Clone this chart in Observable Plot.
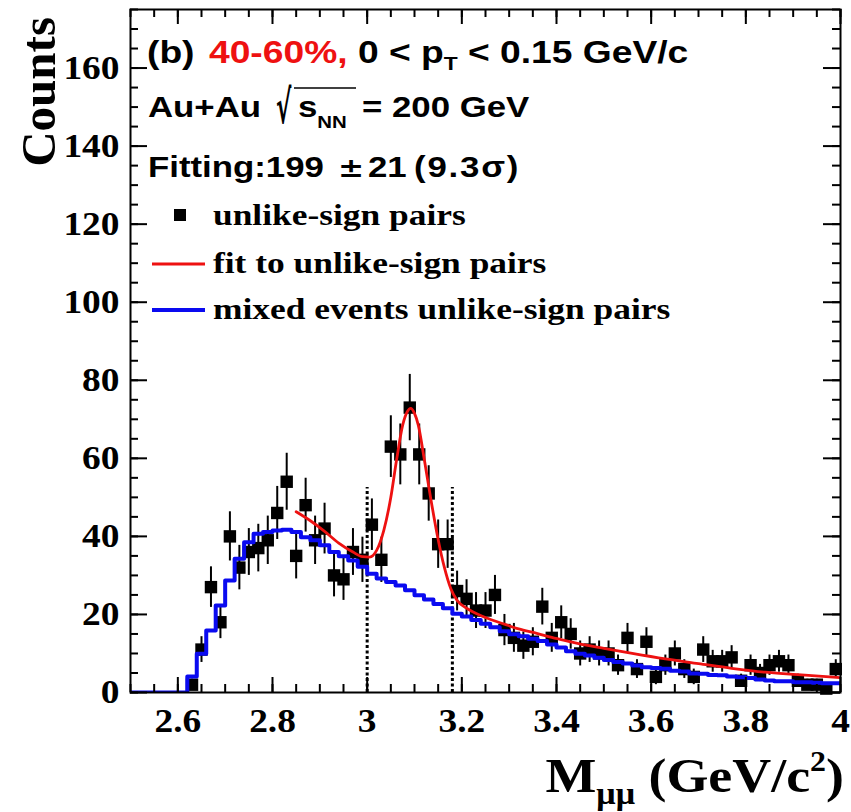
<!DOCTYPE html>
<html><head><meta charset="utf-8">
<script src="https://cdn.jsdelivr.net/npm/d3@7"></script>
<script src="https://cdn.jsdelivr.net/npm/@observablehq/plot@0.6"></script>
<style>
html,body{margin:0;padding:0;background:#fff;}
#chart svg{display:block;}
</style></head><body><div id="chart"></div>
<script>
// ---- data ----
const mass = [2.63,2.65,2.67,2.69,2.71,2.73,2.75,2.77,2.79,2.81,2.83,2.85,2.87,2.89,2.91,2.93,2.95,2.97,2.99,
  3.01,3.03,3.05,3.07,3.09,3.11,3.13,3.15,3.17,3.19,3.21,3.23,3.25,3.27,3.29,3.31,3.33,3.35,3.37,3.39,
  3.41,3.43,3.45,3.47,3.49,3.51,3.53,3.55,3.57,3.59,3.61,3.63,3.65,3.67,3.69,3.71,3.73,3.75,3.77,3.79,
  3.81,3.83,3.85,3.87,3.89,3.91,3.93,3.95,3.97,3.99];
const counts = [2,11,27,18,40,32,36,37,39,46,54,35,48,39,42,30,29,36,34,
  43,34,63,61,73,61,51,38,38,26,24,21,21,25,16,14,12,13,22,14,
  18,15,10,11,10,10,7,14,6,13,4,7,10,6,4,11,8,8,9,3,
  7,5,7,8,7,3,2,2,1,6];
const countErr = [1.4,3.3,5.2,4.2,6.3,5.7,6.0,6.1,6.2,6.8,7.3,5.9,6.9,6.2,6.5,5.5,5.4,6.0,5.8,
  6.6,5.8,7.9,7.8,8.5,7.8,7.1,6.2,6.2,5.1,4.9,4.6,4.6,5.0,4.0,3.7,3.5,3.6,4.7,3.7,
  4.2,3.9,3.2,3.3,3.2,3.2,2.6,3.7,2.4,3.6,2.0,2.6,3.2,2.4,2.0,3.3,2.8,2.8,3.0,1.7,
  2.6,2.2,2.6,2.8,2.6,1.7,1.4,1.4,1.0,2.4];
const mixed = [4.1,9.9,15.9,22.3,28.7,34.3,38.5,40.7,41.1,41.5,41.7,41.1,39.8,39.0,37.7,36.0,34.9,33.8,32.2,
  30.4,29.2,28.3,27.4,26.2,24.9,23.8,22.7,21.6,20.2,19.5,18.6,17.6,16.7,15.7,14.9,14.4,13.8,13.2,12.3,
  11.5,10.6,9.9,9.5,8.9,8.3,7.8,7.4,6.9,6.5,6.3,6.1,5.6,5.4,4.9,4.8,4.5,4.4,4.1,3.9,
  3.7,3.3,3.1,2.9,2.9,2.6,2.6,2.5,2.4,2.4];
const mixedLowEdge = [2.50, 2.61];   // empty region before the first filled bin
const mixedHighEdge = 4.00;
const fitMass = [2.85,2.88,2.91,2.94,2.97,2.99,3.005,3.02,3.035,3.05,3.062,3.075,3.085,3.092,3.10,3.108,
  3.121,3.135,3.149,3.163,3.177,3.19,3.21,3.25,3.29,3.32,3.36,3.39,3.43,3.46,3.50,3.56,3.63,3.70,3.77,3.84,3.91,4.00];
const fitCounts = [46.3,44.0,41.3,38.3,36.0,34.8,34.7,36.4,41.5,50.0,59.5,68.5,72.0,72.8,71.5,68.5,
  59.5,49.2,39.8,32.1,26.5,23.6,21.6,19.2,17.5,16.3,15.1,14.1,13.0,12.2,11.3,10.0,8.6,7.4,6.2,5.2,4.6,3.8];
const windowMass = [3.0, 3.18];
const windowTop = 52.5;
const xTickValues = [2.6,2.8,3.0,3.2,3.4,3.6,3.8,4.0];
const xTickLabels = ["2.6","2.8","3","3.2","3.4","3.6","3.8","4"];
const yTickValues = [0,20,40,60,80,100,120,140,160];
const yTickLabels = ["0","20","40","60","80","100","120","140","160"];
const xMinorTicks = d3.range(2.5, 4.001, 0.05);
const yMinorTicks = d3.range(0, 175.1, 5);

// ---- layout ----
const W = 851, H = 812, ML = 130, MR = 11, MT = 9, MB = 120;
const FW = W - ML - MR, FH = H - MT - MB;
const SERIF = "'Liberation Serif','Times New Roman',serif";
const SANS = "'Liberation Sans',Arial,Helvetica,sans-serif";
const RED = "#ee1111", BLUE = "#0a0af0";
const STRETCH = 1.2;

const points = mass.map((m, i) => ({m, c: counts[i], e: countErr[i]}));
const mixedLine = [
  ...mixedLowEdge.map(m => ({m, v: 0})),
  ...mass.map((m, i) => ({m, v: mixed[i]})),
  {m: mixedHighEdge, v: mixed[mixed.length - 1]}
];
const fit = fitMass.map((m, i) => ({m, v: fitCounts[i]}));

const plot = Plot.plot({
  width: W, height: H,
  marginLeft: ML, marginRight: MR, marginTop: MT, marginBottom: MB,
  x: {domain: [2.5, 4], axis: null},
  y: {domain: [0, 175], axis: null},
  style: {background: "white", overflow: "visible"},
  marks: [
    // error bars and markers
    Plot.ruleX(points, {x: "m", y1: d => Math.max(0, d.c - d.e), y2: d => d.c + d.e, stroke: "black", strokeWidth: 2}),
    Plot.dot(points, {x: "m", y: "c", symbol: "square", r: 7, fill: "black", stroke: "none"}),
    // mass window
    Plot.ruleX(windowMass, {x: d => d, y1: 0, y2: windowTop, stroke: "black", strokeWidth: 3, strokeDasharray: "3,2.5"}),
    // mixed events histogram
    Plot.line(mixedLine, {x: "m", y: "v", curve: "step", stroke: BLUE, strokeWidth: 4, clip: true}),
    // fit
    Plot.line(fit, {x: "m", y: "v", curve: "monotone-x", stroke: RED, strokeWidth: 2.8, clip: true}),
    // frame and ticks on all four sides (ROOT style, pointing inward)
    Plot.tickX(xMinorTicks, {x: d => d, insetTop: FH - 8, strokeWidth: 2}),
    Plot.tickX(xTickValues, {x: d => d, insetTop: FH - 15, strokeWidth: 2}),
    Plot.tickX(xMinorTicks, {x: d => d, insetBottom: FH - 8, strokeWidth: 2}),
    Plot.tickX(xTickValues, {x: d => d, insetBottom: FH - 15, strokeWidth: 2}),
    Plot.tickY(yMinorTicks, {y: d => d, insetRight: FW - 8, strokeWidth: 2}),
    Plot.tickY(yTickValues, {y: d => d, insetRight: FW - 17, strokeWidth: 2}),
    Plot.tickY(yMinorTicks, {y: d => d, insetLeft: FW - 8, strokeWidth: 2}),
    Plot.tickY(yTickValues, {y: d => d, insetLeft: FW - 17, strokeWidth: 2}),
    Plot.frame({stroke: "black", strokeWidth: 2}),
    // tick labels
    Plot.axisX({ticks: xTickValues, tickSize: 0, tickPadding: 15, label: null,
      tickFormat: d => xTickLabels[xTickValues.findIndex(v => Math.abs(v - d) < 1e-9)],
      fontSize: 34, fontFamily: SERIF, fontWeight: "bold", fill: "black"}),
    Plot.axisY({ticks: yTickValues, tickSize: 0, tickPadding: 11, label: null,
      tickFormat: d => yTickLabels[yTickValues.indexOf(d)],
      fontSize: 34, fontFamily: SERIF, fontWeight: "bold", fill: "black"})
  ]
});
document.getElementById("chart").appendChild(plot);

const svg = d3.select(plot);
// widen the tick labels as in the reference (keep Plot's em-based offsets)
const isNum = s => s != null && /^-?[\d.]+$/.test(s.trim());
svg.selectAll("g[aria-label*='tick label'] text").each(function () {
  const t = this.getAttribute("transform") || "";
  let x = 0, y = 0;
  const ax = this.getAttribute("x"), ay = this.getAttribute("y");
  if (isNum(ax)) { x = +ax; this.removeAttribute("x"); }
  if (isNum(ay)) { y = +ay; this.removeAttribute("y"); }
  this.setAttribute("transform", `${t} translate(${x},${y}) scale(1.1,1)`);
});

const ann = svg.append("g").attr("class", "annotations");
function label(x, y, parts, opts = {}) {
  const g = ann.append("g").attr("transform", `translate(${x},${y}) scale(${opts.sx ?? STRETCH},1)${opts.rotate ? ` rotate(${opts.rotate})` : ""}`);
  const t = g.append("text")
    .attr("font-family", opts.family ?? SANS)
    .attr("font-weight", "bold")
    .attr("font-size", opts.size ?? 29)
    .attr("fill", opts.fill ?? "black")
    .attr("text-anchor", opts.anchor ?? "start");
  if (opts.spacing) t.attr("letter-spacing", opts.spacing);
  for (const p of parts) {
    const s = t.append("tspan").text(p.t);
    if (p.fill) s.attr("fill", p.fill);
    if (p.size) s.attr("font-size", p.size);
    if (p.dy) s.attr("dy", p.dy);
    if (p.dx) s.attr("dx", p.dx);
  }
  return t;
}
// header lines
label(147, 63, [{t: "(b)"}], {size: 31});
label(209, 63, [{t: "40-60%,", fill: RED}], {size: 31});
label(358, 63, [{t: "0 < p"}, {t: "T", size: 19, dy: 7}, {t: " < 0.15 GeV/c", dy: -7}], {size: 31});
label(148, 117, [{t: "Au+Au"}]);
label(276, 123, [{t: "\u221A"}], {size: 46, family: "'DejaVu Sans',sans-serif", sx: 0.5});
ann.append("line").attr("x1", 294).attr("x2", 356).attr("y1", 88).attr("y2", 88).attr("stroke", "black").attr("stroke-width", 1.5);
label(298, 117, [{t: "s"}, {t: "NN", size: 17, dy: 11}], {});
label(362, 117, [{t: "= 200 GeV"}]);
label(148, 177, [{t: "Fitting:199"}]);
label(338, 177, [{t: "\u00B1", }], {family: "'DejaVu Sans',sans-serif", size: 26});
label(368, 177, [{t: "21"}]);
label(414, 177, [{t: "(9.3\u03C3)"}], {spacing: 1.5});

// legend
ann.append("rect").attr("x", 174).attr("y", 209).attr("width", 12).attr("height", 12).attr("fill", "black");
label(213, 225, [{t: "unlike-sign pairs"}], {family: SERIF, size: 29.5});
ann.append("line").attr("x1", 152).attr("x2", 205).attr("y1", 264).attr("y2", 264).attr("stroke", RED).attr("stroke-width", 2.8);
label(213, 273, [{t: "fit to unlike-sign pairs"}], {family: SERIF, size: 29.5});
ann.append("line").attr("x1", 152).attr("x2", 205).attr("y1", 310).attr("y2", 310).attr("stroke", BLUE).attr("stroke-width", 4);
label(213, 319, [{t: "mixed events unlike-sign pairs"}], {family: SERIF, size: 29.5});

// axis titles
label(55, 17, [{t: "Counts"}], {family: SERIF, size: 49, anchor: "end", rotate: -90, sx: 1.0});
label(844, 792, [{t: "M"}, {t: "\u03BC\u03BC", size: 31, dy: 12}, {t: " (GeV/c", dy: -12}, {t: "2", size: 29, dy: -21}, {t: ")", dy: 21}],
  {family: SERIF, size: 49, anchor: "end", sx: 1.1});
</script>
</body></html>
